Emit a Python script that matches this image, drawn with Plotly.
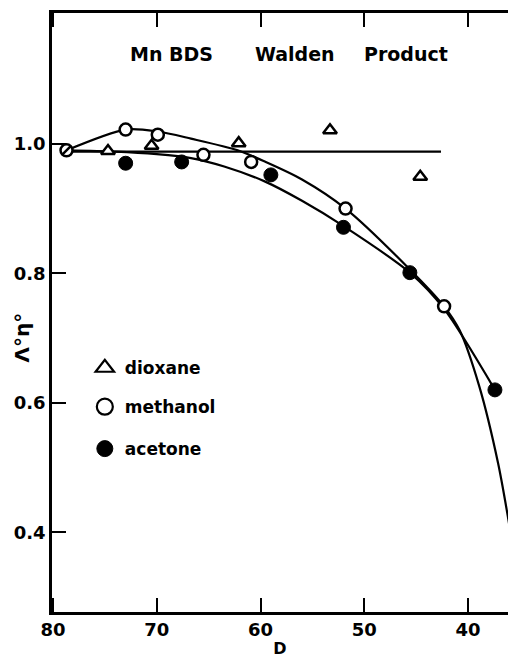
import plotly.graph_objects as go

# ---- data ----
water_D = [78.7]
water_val = [0.990]

dioxane_D = [74.7, 70.5, 62.1, 53.3, 44.6]
dioxane_val = [0.989, 0.997, 1.001, 1.021, 0.949]

methanol_D = [73.0, 69.9, 65.5, 60.9, 51.8, 42.3]
methanol_val = [1.022, 1.014, 0.983, 0.972, 0.900, 0.749]

acetone_D = [73.0, 67.6, 59.0, 52.0, 45.6, 37.4]
acetone_val = [0.970, 0.972, 0.952, 0.871, 0.801, 0.620]

# hand-drawn curves
methanol_curve_D = [78.7, 73.0, 69.9, 66.7, 62.2, 59.5, 56.0, 51.8, 45.6, 42.3, 40.8, 38.9, 37.1, 36.0]
methanol_curve_val = [0.990, 1.022, 1.019, 1.008, 0.990, 0.972, 0.945, 0.900, 0.806, 0.749, 0.712, 0.625, 0.507, 0.41]

acetone_curve_D = [78.7, 74.0, 70.0, 66.7, 63.5, 59.6, 56.0, 52.1, 45.6, 42.3, 37.4]
acetone_curve_val = [0.990, 0.988, 0.984, 0.978, 0.965, 0.942, 0.912, 0.874, 0.801, 0.745, 0.620]

ideal_D = [78.7, 42.6]
ideal_val = [0.988, 0.988]

x_ticks = [80, 70, 60, 50, 40]
y_ticks = [0.4, 0.6, 0.8, 1.0]
y_ticktext = ["0.4", "0.6", "0.8", "1.0"]

FONT = "DejaVu Sans"

fig = go.Figure()

line_style = dict(color="black", width=2.2)
fig.add_trace(go.Scatter(x=ideal_D, y=ideal_val, mode="lines", line=line_style,
                         showlegend=False, hoverinfo="skip"))
fig.add_trace(go.Scatter(x=methanol_curve_D, y=methanol_curve_val, mode="lines",
                         line=dict(color="black", width=2.2, shape="spline", smoothing=0.8),
                         showlegend=False, hoverinfo="skip"))
fig.add_trace(go.Scatter(x=acetone_curve_D, y=acetone_curve_val, mode="lines",
                         line=dict(color="black", width=2.2, shape="spline", smoothing=0.8),
                         showlegend=False, hoverinfo="skip"))

# data markers
fig.add_trace(go.Scatter(x=dioxane_D, y=dioxane_val, mode="markers", showlegend=False,
                         marker=dict(symbol="triangle-up", size=12, color="white",
                                     line=dict(color="black", width=2.5))))
fig.add_trace(go.Scatter(x=methanol_D, y=methanol_val, mode="markers", showlegend=False,
                         marker=dict(symbol="circle", size=12, color="white",
                                     line=dict(color="black", width=2.5))))
fig.add_trace(go.Scatter(x=acetone_D, y=acetone_val, mode="markers", showlegend=False,
                         marker=dict(symbol="circle", size=14, color="black",
                                     line=dict(color="black", width=1))))
fig.add_trace(go.Scatter(x=water_D, y=water_val, mode="markers", showlegend=False,
                         marker=dict(symbol="circle", size=12, color="white",
                                     line=dict(color="black", width=2.5))))
fig.add_trace(go.Scatter(x=water_D, y=water_val, mode="markers", showlegend=False,
                         marker=dict(symbol="line-ne", size=9,
                                     line=dict(color="black", width=2.5))))

# legend-only entries (three separate legends to reproduce the wide spacing)
fig.add_trace(go.Scatter(x=[None], y=[None], mode="markers", name="dioxane", legend="legend",
                         marker=dict(symbol="triangle-up", size=16, color="white",
                                     line=dict(color="black", width=2.2))))
fig.add_trace(go.Scatter(x=[None], y=[None], mode="markers", name="methanol", legend="legend2",
                         marker=dict(symbol="circle", size=16, color="white",
                                     line=dict(color="black", width=2.2))))
fig.add_trace(go.Scatter(x=[None], y=[None], mode="markers", name="acetone", legend="legend3",
                         marker=dict(symbol="circle", size=16, color="black",
                                     line=dict(color="black", width=1))))

leg_common = dict(xanchor="left", yanchor="middle", bgcolor="rgba(0,0,0,0)", borderwidth=0,
                  font=dict(family=FONT, size=17, color="black", weight="bold"),
                  itemsizing="trace")
fig.update_layout(
    legend=dict(x=0.072, y=0.407, **leg_common),
    legend2=dict(x=0.072, y=0.342, **leg_common),
    legend3=dict(x=0.072, y=0.272, **leg_common),
)

# title words
for word, xd in [("Mn BDS", 68.6), ("Walden", 56.7), ("Product", 46.0)]:
    fig.add_annotation(x=xd, y=1.138, xref="x", yref="y", text=word, showarrow=False,
                       font=dict(family=FONT, size=19, color="black", weight="bold"))

fig.add_annotation(x=-0.066, y=0.458, xref="paper", yref="paper", text="Λ°η°", textangle=-90,
                   xanchor="center", yanchor="middle",
                   showarrow=False, font=dict(family=FONT, size=20, color="black", weight="bold"))

fig.update_xaxes(range=[80.1, 36.14], tickvals=x_ticks, ticks="inside", ticklen=14, tickwidth=2,
                 tickcolor="black", showline=True, linecolor="black", linewidth=2.5,
                 mirror="ticks", showgrid=False, zeroline=False,
                 tickfont=dict(family=FONT, size=18, color="black", weight="bold"),
                 title=dict(text="D", font=dict(family=FONT, size=16, color="black", weight="bold"),
                            standoff=6))
fig.update_yaxes(range=[0.277, 1.202], tickvals=y_ticks, ticktext=y_ticktext, ticks="inside",
                 ticklen=14, tickwidth=2, tickcolor="black", showline=True, linecolor="black",
                 linewidth=2.5, showgrid=False, zeroline=False,
                 tickfont=dict(family=FONT, size=18, color="black", weight="bold"))

fig.update_layout(width=508, height=658, margin=dict(l=52, r=0, t=13, b=46),
                  plot_bgcolor="white", paper_bgcolor="white")

fig.write_html("out.html", config={"displayModeBar": False},
               post_script="document.body.style.margin='0';document.body.style.overflow='hidden';")
